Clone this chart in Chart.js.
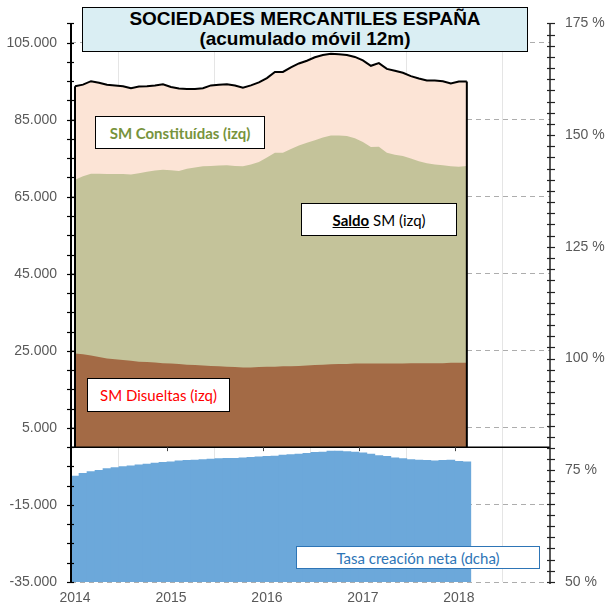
<!DOCTYPE html>
<html>
<head>
<meta charset="utf-8">
<script src="https://cdn.jsdelivr.net/npm/chart.js@4.4.1/dist/chart.umd.min.js"></script>
<style>
html,body{margin:0;padding:0;background:#fff;}
#wrap{position:relative;width:606px;height:612px;overflow:hidden;background:#fff;}
#c{position:absolute;left:0;top:0;}
.box{position:absolute;box-sizing:border-box;border:1px solid #000;background:#fff;display:flex;align-items:center;justify-content:center;font-family:Lato,'Open Sans',sans-serif;font-size:15px;white-space:nowrap;}
#title{position:absolute;left:82px;top:7px;width:446px;height:45px;box-sizing:border-box;border:1px solid #000;background:#DAEEF3;font-family:'Liberation Sans',Arial,sans-serif;font-weight:bold;font-size:19px;line-height:20px;text-align:center;padding-top:1px;color:#000;}
</style>
</head>
<body>
<div id="wrap">
<canvas id="c" width="606" height="612"></canvas>
<div id="title">SOCIEDADES MERCANTILES ESPAÑA<br>(acumulado móvil 12m)</div>
<div class="box" style="left:95px;top:116px;width:170px;height:33px;color:#77933C;font-weight:bold;">SM Constituídas (izq)</div>
<div class="box" style="left:301px;top:203px;width:156px;height:33px;color:#000;"><span><b style="text-decoration:underline;">Saldo</b> SM (izq)</span></div>
<div class="box" style="left:87px;top:378px;width:143px;height:34px;color:#FF0000;">SM Disueltas (izq)</div>
<div class="box" style="left:296px;top:546px;width:244px;height:23px;color:#2E75B6;border-color:#2E75B6;">Tasa creación neta (dcha)</div>
</div>
<script>
// ---- data (monthly, 12-month rolling totals) ----
const months = ['2014-01','2014-02','2014-03','2014-04','2014-05','2014-06','2014-07','2014-08','2014-09','2014-10','2014-11','2014-12',
                '2015-01','2015-02','2015-03','2015-04','2015-05','2015-06','2015-07','2015-08','2015-09','2015-10','2015-11','2015-12',
                '2016-01','2016-02','2016-03','2016-04','2016-05','2016-06','2016-07','2016-08','2016-09','2016-10','2016-11','2016-12',
                '2017-01','2017-02','2017-03','2017-04','2017-05','2017-06','2017-07','2017-08','2017-09','2017-10','2017-11','2017-12',
                '2018-01','2018-02'];
const xTickLabels = ['2014','2015','2016','2017','2018'];
const constituidas = [93700,94100,95000,94600,94100,93900,93700,93200,93600,93700,93900,94200,
                      93500,93100,93000,93000,93150,93900,94100,94200,93900,93300,93900,94700,
                      95800,97400,97400,98600,99600,100300,101200,101800,102100,102000,101800,101300,
                      100400,99000,99700,98200,97700,97200,96300,95700,95200,95200,95000,94400,
                      94900,94900];
const saldo = [69400,70300,71000,71000,70900,70900,70900,70800,71100,71500,71800,72000,
               71900,71700,72300,72600,72900,73000,73100,73200,73000,72900,73400,74000,
               75200,76400,76400,77400,78300,79000,79700,80400,80900,80900,80800,80200,
               79200,77900,78000,76400,75900,75600,74900,74200,73700,73400,73200,72900,
               72800,73000];
const disueltas = [24300,24100,23800,23400,23000,22800,22600,22400,22200,22100,22000,21800,
                   21700,21600,21400,21300,21200,21100,21000,20900,20800,20700,20700,20800,
                   20900,20900,21000,21000,21100,21200,21300,21400,21500,21600,21600,21700,
                   21700,21700,21700,21700,21700,21700,21800,21800,21800,21800,21800,21900,
                   21900,21900];
const tasa = [73.7,74.3,74.7,75.0,75.4,75.6,75.8,76.0,76.2,76.4,76.6,76.8,
              76.9,77.1,77.2,77.3,77.4,77.5,77.6,77.7,77.7,77.8,77.9,78.0,
              78.1,78.2,78.4,78.5,78.6,78.8,79.0,79.1,79.3,79.3,79.2,79.1,
              78.9,78.6,78.3,78.1,77.8,77.6,77.4,77.3,77.2,77.1,77.2,77.3,
              77.0,76.9];

// month position (months since Jan 2014, centred mid-month)
const xs = months.map(m => { const [y, mo] = m.split('-').map(Number); return (y - 2014) * 12 + (mo - 1) + 0.5; });
const pts = arr => arr.map((v, i) => ({x: xs[i], y: v}));

const fmt = v => (v < 0 ? '-' : '') + String(Math.abs(v)).replace(/\B(?=(\d{3})+(?!\d))/g, '.');
const tickFont = {family: "'Liberation Sans', Arial, sans-serif", size: 14};
const tickColor = '#595959';

const decor = {
  id: 'decor',
  afterDatasetsDraw(chart) {
    const ctx = chart.ctx, y = chart.scales.y;
    const meta = chart.getDatasetMeta(0);
    const p = meta.data; if (!p.length) return;
    const first = p[0], last = p[p.length - 1];
    const y0 = y.getPixelForValue(0);
    ctx.save();
    ctx.strokeStyle = '#000'; ctx.lineWidth = 2;
    ctx.beginPath();
    ctx.moveTo(first.x, y0); ctx.lineTo(first.x, first.y);
    ctx.moveTo(last.x, last.y); ctx.lineTo(last.x, y0);
    ctx.stroke();
    ctx.restore();
  },
  afterDraw(chart) {
    const ctx = chart.ctx, ca = chart.chartArea;
    const y = chart.scales.y, y2 = chart.scales.y2, x = chart.scales.x;
    const y0 = y.getPixelForValue(0);
    ctx.save();
    // zero line
    ctx.strokeStyle = '#000'; ctx.lineWidth = 1.5;
    ctx.beginPath(); ctx.moveTo(ca.left, y0); ctx.lineTo(ca.right, y0); ctx.stroke();
    // year ticks on zero line
    ctx.strokeStyle = '#404040'; ctx.lineWidth = 1;
    x.ticks.forEach(t => { const px = Math.round(x.getPixelForValue(t.value)) + 0.5; ctx.beginPath(); ctx.moveTo(px, y0); ctx.lineTo(px, y0 + 4); ctx.stroke(); });
    // left axis
    ctx.strokeStyle = '#000'; ctx.lineWidth = 2;
    ctx.beginPath(); ctx.moveTo(ca.left, ca.top); ctx.lineTo(ca.left, ca.bottom); ctx.stroke();
    ctx.lineWidth = 1.2;
    y.ticks.forEach(t => { const py = Math.round(y.getPixelForValue(t.value)) + 0.5; ctx.beginPath(); ctx.moveTo(ca.left - 4, py); ctx.lineTo(ca.left + 3, py); ctx.stroke(); });
    // right axis
    ctx.strokeStyle = '#222'; ctx.lineWidth = 1.5;
    ctx.beginPath(); ctx.moveTo(ca.right, ca.top); ctx.lineTo(ca.right, ca.bottom + 2); ctx.stroke();
    ctx.lineWidth = 1.2;
    y2.ticks.forEach(t => { const py = Math.round(y2.getPixelForValue(t.value)) + 0.5; ctx.beginPath(); ctx.moveTo(ca.right - 3, py); ctx.lineTo(ca.right + 5, py); ctx.stroke(); });
    ctx.restore();
  }
};

new Chart(document.getElementById('c'), {
  type: 'line',
  data: {
    datasets: [
      {label: 'SM Constituídas (izq)', data: pts(constituidas), yAxisID: 'y', borderColor: '#000', borderWidth: 2,
       backgroundColor: '#FCE4D6', fill: 'origin', pointRadius: 0, tension: 0, order: 3},
      {label: 'Saldo SM (izq)', data: pts(saldo), yAxisID: 'y', borderColor: 'rgba(0,0,0,0)', borderWidth: 0,
       backgroundColor: '#C4C39A', fill: 'origin', pointRadius: 0, tension: 0, order: 2},
      {label: 'SM Disueltas (izq)', data: pts(disueltas), yAxisID: 'y', borderColor: 'rgba(0,0,0,0)', borderWidth: 0,
       backgroundColor: '#A36A45', fill: 'origin', pointRadius: 0, tension: 0, order: 1},
      {type: 'bar', label: 'Tasa creación neta (dcha)', data: pts(tasa), yAxisID: 'y2', backgroundColor: '#6CA8DA',
       borderWidth: 0, barPercentage: 1, categoryPercentage: 1, order: 4}
    ]
  },
  options: {
    responsive: false, animation: false, devicePixelRatio: 1,
    layout: {padding: {top: 23, left: 0, right: 0, bottom: 0}},
    plugins: {legend: {display: false}, tooltip: {enabled: false}},
    scales: {
      x: {type: 'linear', min: 0, max: 59.9, offset: false, z: 1,
          afterBuildTicks: s => { s.ticks = xTickLabels.map((_, k) => ({value: k * 12})); },
          afterFit: s => { s.height = 30; },
          ticks: {callback: (v, i) => xTickLabels[i], font: tickFont, color: tickColor, padding: 8, labelOffset: 4, maxRotation: 0, autoSkip: false},
          grid: {color: 'rgba(0,0,0,0.1)', lineWidth: 1, drawTicks: false},
          border: {display: false}},
      y: {type: 'linear', position: 'left', min: -35000, max: 110000, z: 1,
          afterBuildTicks: s => { const t = []; for (let v = -35000; v <= 110000; v += 5000) t.push({value: v}); s.ticks = t; },
          afterFit: s => { s.width = 71; },
          ticks: {callback: v => ((v + 35000) % 20000 === 0 && v < 110000) ? fmt(v) : '', font: tickFont, color: tickColor, padding: 14, autoSkip: false},
          grid: {color: c => (c.tick && (c.tick.value + 35000) % 20000 === 0 && c.tick.value < 110000) ? 'rgba(0,0,0,0.32)' : 'rgba(0,0,0,0)', lineWidth: 1, drawTicks: false},
          border: {display: false, dash: [5, 4]}},
      y2: {type: 'linear', position: 'right', min: 50, max: 175, z: 1,
          afterBuildTicks: s => { const t = []; for (let v = 50; v <= 175; v += 2.5) t.push({value: v}); s.ticks = t; },
          afterFit: s => { s.width = 56; },
          ticks: {callback: v => (v % 25 === 0) ? v + ' %' : '', font: tickFont, color: tickColor, padding: 15, autoSkip: false},
          grid: {drawOnChartArea: false, drawTicks: false},
          border: {display: false}}
    }
  },
  plugins: [decor]
});
</script>
</body>
</html>
